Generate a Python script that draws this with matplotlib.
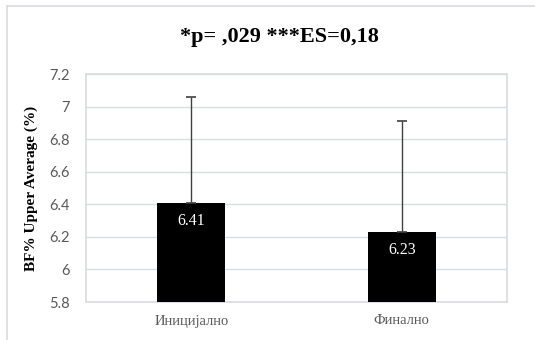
import matplotlib.pyplot as plt
from matplotlib.lines import Line2D

categories = ['Иницијално', 'Финално']
means = [6.41, 6.23]
upper_err = [0.65, 0.68]
yticks = [5.8, 6.0, 6.2, 6.4, 6.6, 6.8, 7.0, 7.2]
ytick_labels = ['5.8', '6', '6.2', '6.4', '6.6', '6.8', '7', '7.2']

fig = plt.figure(figsize=(5.35, 3.4), dpi=100)
ax = fig.add_axes([86 / 535, 38 / 340, 421 / 535, 228 / 340])

grid_col = '#d9dce1'
x = range(len(categories))
ax.bar(x, means, width=0.325, color='black', zorder=3)
ax.errorbar(x, means, yerr=[[0] * len(means), upper_err], fmt='none',
            ecolor='#404040', elinewidth=1, capsize=3.6, capthick=1.2, zorder=4)

# value labels just inside the top of each bar
for i, v in enumerate(means):
    ax.text(i, v - 0.11, f'{v:.2f}', ha='center', va='center', color='white',
            fontsize=11.5, family='Liberation Serif', zorder=5)

ax.set_xlim(-0.5, len(categories) - 0.5)
ax.set_ylim(5.8, 7.2)
ax.set_yticks(yticks)
ax.set_yticklabels(ytick_labels, family='Lato', fontsize=10.5, color='#595959')
ax.set_xticks(list(x))
ax.set_xticklabels(categories, family='Liberation Serif', fontsize=10.5, color='#595959')
ax.tick_params(axis='y', length=0, pad=12)
ax.tick_params(axis='x', length=0, pad=9)
ax.grid(axis='y', color=grid_col, lw=1, zorder=0)
for s in ax.spines.values():
    s.set_color(grid_col)
    s.set_linewidth(1.2)

ax.set_ylabel('BF% Upper Average (%)', family='Liberation Serif', fontweight='bold',
              fontsize=11, labelpad=8)
fig.text(0.522, 0.891, '*p= ,029 ***ES=0,18', ha='center', va='center',
         family='Liberation Serif', fontweight='bold', fontsize=16)

# outer chart border (only top and left are in frame)
fig.add_artist(Line2D([7 / 535, 1], [1 - 6 / 340, 1 - 6 / 340], color=grid_col, lw=1.2))
fig.add_artist(Line2D([7 / 535, 7 / 535], [0, 1 - 6 / 340], color=grid_col, lw=1.2))

fig.savefig('out.png', dpi=100)
